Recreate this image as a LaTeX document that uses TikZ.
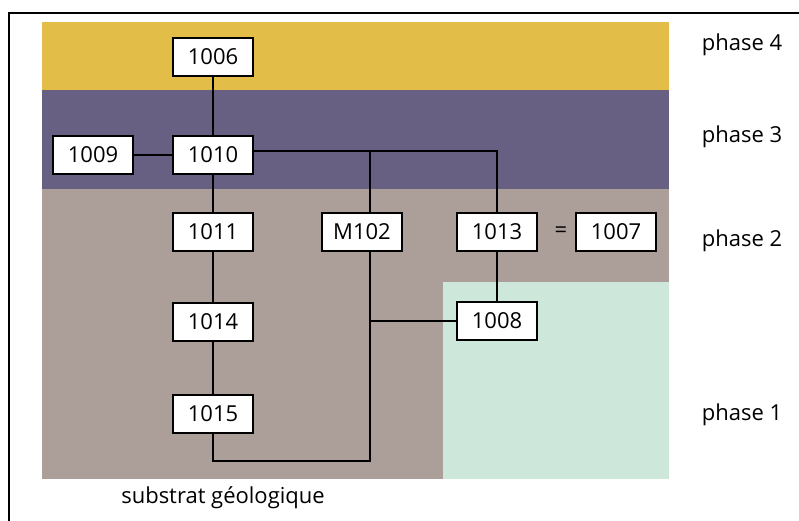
\documentclass[tikz,border=0pt]{standalone}
\usepackage{fontspec}
\setmainfont{Open Sans}
\usetikzlibrary{positioning}

\definecolor{phasefour}{HTML}{E2BD48}
\definecolor{phasethree}{HTML}{676082}
\definecolor{phasetwo}{HTML}{AC9F9A}
\definecolor{phaseone}{HTML}{CDE8DB}

\begin{document}
\begin{tikzpicture}[x=1pt,y=-1pt]
\tikzset{
  usbox/.style={draw,fill=white,line width=2pt,minimum width=80pt,minimum height=38pt,inner sep=1pt,font=\fontsize{22}{26}\selectfont},
  link/.style={line width=1.8pt},
  phaselabel/.style={font=\fontsize{22}{26}\selectfont,anchor=center}
}
\useasboundingbox (0,0) rectangle (799,521);
% frame
\draw[line width=2pt] (799,13) -- (9,13) -- (9,521);
% phase bands
\fill[phasefour] (42,22) rectangle (669,90);
\fill[phasethree] (42,90) rectangle (669,189);
\fill[phasetwo] (42,189) rectangle (669,479);
\fill[phaseone] (443,282) rectangle (669,479);
% units
\node[usbox] (n_1006) at (213,57) {1006};
\node[usbox] (n_1009) at (93,155) {1009};
\node[usbox] (n_1010) at (213,155) {1010};
\node[usbox] (n_1011) at (213,232) {1011};
\node[usbox] (n_M102) at (362,232) {M102};
\node[usbox] (n_1013) at (497,232) {1013};
\node[usbox] (n_1007) at (616,232) {1007};
\node[font=\fontsize{22}{26}\selectfont] (n_eq) at (561,232) {=};
\node[usbox] (n_1014) at (213,322) {1014};
\node[usbox] (n_1008) at (497,321) {1008};
\node[usbox] (n_1015) at (213,414) {1015};
\coordinate (j_top) at (370,151);
\coordinate (j_mid) at (370,321);
\coordinate (j_bot) at (370,461);
% connectors
\draw[link] (n_1006) -- (n_1010);
\draw[link] (n_1009) -- (n_1010);
\draw[link] (n_1010) -- (n_1011);
\draw[link] (n_1011) -- (n_1014);
\draw[link] (n_1014) -- (n_1015);
\draw[link] (n_1010.east |- j_top) -| (n_1013.north);
\draw[link] (j_top) -- (j_top |- n_M102.north);
\draw[link] (n_1013) -- (n_1008);
\draw[link] (j_top |- n_M102.south) -- (j_bot) -| (n_1015.south);
\draw[link] (j_mid) -- (j_mid -| n_1008.west);
% labels
\node[phaselabel] (l_p4) at (742,45) {phase 4};
\node[phaselabel] (l_p3) at (742,137) {phase 3};
\node[phaselabel] (l_p2) at (742,241) {phase 2};
\node[phaselabel] (l_p1) at (742,415) {phase 1};
\node[phaselabel] (l_sub) at (223,498) {substrat géologique};
\end{tikzpicture}
\end{document}
